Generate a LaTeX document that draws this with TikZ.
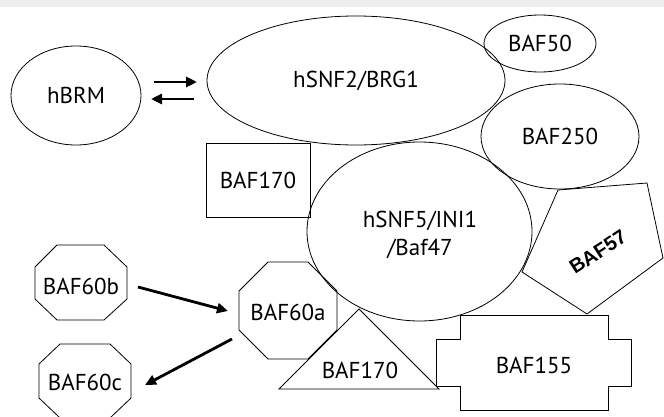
\documentclass[tikz,border=0pt]{standalone}
\usepackage{fontspec}
\setmainfont{PT Sans}
\newfontfamily\arialfont{Liberation Sans}
\usetikzlibrary{shapes.geometric,arrows.meta}
\begin{document}
\begin{tikzpicture}[x=1pt,y=-1pt,
  shp/.style={draw,line width=0.8pt},
  ell/.style={shp,ellipse,inner sep=0pt},
  lbl/.style={font=\fontsize{23}{28}\selectfont,inner sep=0pt,text=black},
  arr/.style={line width=2.8pt,-{Triangle[length=11pt,width=10pt]}}]
\useasboundingbox (0,0) rectangle (664,417);
\fill[gray!14] (0,0) rectangle (664,7);
% ellipses
\node[ell,minimum width=130pt,minimum height=99pt,lbl] (hbrm) at (76,95.5) {hBRM};
\node[ell,minimum width=298pt,minimum height=129pt,lbl] (brg) at (356,80.5) {hSNF2/BRG1};
\node[ell,minimum width=112pt,minimum height=57pt,lbl] (baf50) at (540,43.5) {BAF50};
\node[ell,minimum width=158pt,minimum height=105pt,lbl] (baf250) at (560,136.5) {BAF250};
\node[ell,minimum width=225pt,minimum height=179pt] (snf5) at (419.5,231.5) {};
\node[lbl,align=center] (snf5t) at (420,235) {hSNF5/INI1\\/Baf47};
% rectangle
\node[shp,minimum width=104pt,minimum height=74pt,lbl] (baf170r) at (258,180) {BAF170};
% triangle
\draw[shp] (359,309) -- (439,389) -- (279,389) -- cycle;
\node[lbl] (baf170t) at (360,370) {BAF170};
% BAF155
\draw[shp] (460,315) -- (608,315) -- (608,339) -- (631,339) -- (631,386) -- (608,386)
  -- (608,410) -- (460,410) -- (460,386) -- (436,386) -- (436,339) -- (460,339) -- cycle;
\node[lbl] (baf155) at (534,365) {BAF155};
% BAF57 pentagon
\draw[shp] (558,190) -- (647,183) -- (663,258) -- (587,314) -- (522,272) -- cycle;
\node[font=\arialfont\bfseries\fontsize{20}{22}\selectfont,inner sep=0pt,rotate=33] (baf57) at (598,252) {BAF57};
% octagons
\draw[shp] (268,262) -- (308,262) -- (337,291) -- (337,330) -- (308,359) -- (268,359) -- (239,330) -- (239,291) -- cycle;
\node[lbl] (baf60a) at (288,312) {BAF60a};
\draw[shp] (57,245) -- (104,245) -- (127,267) -- (127,299) -- (104,320) -- (57,320) -- (35,299) -- (35,267) -- cycle;
\node[lbl] (baf60b) at (81,286) {BAF60b};
\draw[shp] (60,344) -- (110,344) -- (131,364) -- (131,398) -- (110,418) -- (60,418) -- (39,398) -- (39,364) -- cycle;
\node[lbl] (baf60c) at (85,382) {BAF60c};
% arrows
\coordinate (a1s) at (154,82); \coordinate (a1e) at (197,82);
\coordinate (a2s) at (194,99); \coordinate (a2e) at (151,99);
\draw[arr] (a1s) -- (a1e);
\draw[arr] (a2s) -- (a2e);
\coordinate (b1s) at (138,287); \coordinate (b1e) at (228,311);
\coordinate (b2s) at (232,339); \coordinate (b2e) at (145,385);
\draw[arr] (b1s) -- (b1e);
\draw[arr] (b2s) -- (b2e);
\end{tikzpicture}
\end{document}
